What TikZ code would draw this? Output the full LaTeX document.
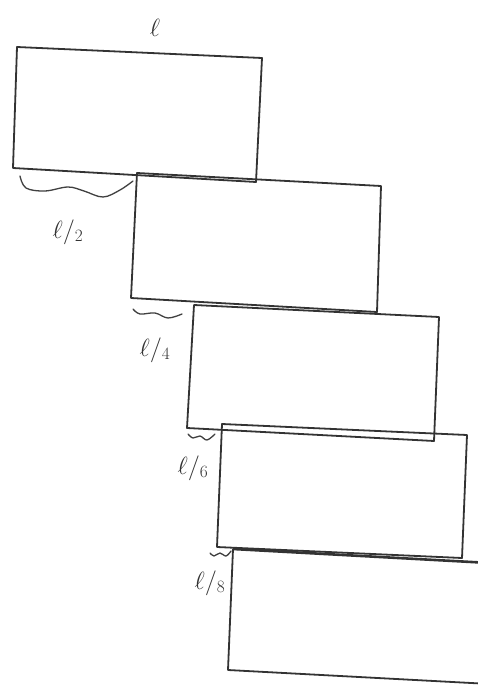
\documentclass[tikz,border=0pt]{standalone}
\usepackage{amsmath}
\begin{document}
\begin{tikzpicture}[x=1pt,y=-1pt,
  blockline/.style={draw=black!80,line width=1.8pt,line join=round},
  brace/.style={draw=black!75,line width=1.3pt,line cap=round},
  lab/.style={font=\fontsize{23}{25}\selectfont,text=black!80,inner sep=0pt}]
\useasboundingbox (0,0) rectangle (478,687);
\clip (0,0) rectangle (478,687);
\fill[white] (0,0) rectangle (478,687);
% block 1
\coordinate (a1) at (17,47); \coordinate (b1) at (262,58);
\coordinate (c1) at (256,182); \coordinate (d1) at (13,168);
\draw[blockline] (a1) -- (b1) -- (c1) -- (d1) -- cycle;
% block 2
\coordinate (a2) at (137,173); \coordinate (b2) at (381,186);
\coordinate (c2) at (377,312); \coordinate (d2) at (131,298);
\draw[blockline] (a2) -- (b2) -- (c2) -- (d2) -- cycle;
% block 3
\coordinate (a3) at (194,305); \coordinate (b3) at (439,317);
\coordinate (c3) at (434,441); \coordinate (d3) at (187,428);
\draw[blockline] (a3) -- (b3) -- (c3) -- (d3) -- cycle;
% block 4
\coordinate (a4) at (222,424); \coordinate (b4) at (467,435);
\coordinate (c4) at (462,558); \coordinate (d4) at (217,547);
\draw[blockline] (a4) -- (b4) -- (c4) -- (d4) -- cycle;
% block 5
\coordinate (a5) at (233,549); \coordinate (b5) at (490,563);
\coordinate (c5) at (490,684); \coordinate (d5) at (228,670);
\draw[blockline,line width=2.6pt] (b5) -- (a5);
\draw[blockline] (a5) -- (d5) -- (c5);
% braces
\draw[brace] plot[smooth,tension=0.6] coordinates {(20,176) (26,188) (45,191) (68,187) (84,191) (103,197) (120,190) (133,181)};
\draw[brace] plot[smooth,tension=0.6] coordinates {(133,309) (140,314) (155,313) (168,318) (182,314)};
\draw[brace] plot[smooth,tension=0.6] coordinates {(188,434) (193,438) (200,436) (207,440) (215,434)};
\draw[brace] plot[smooth,tension=0.6] coordinates {(210,553) (214,556) (220,553) (226,556) (231,551)};
% labels
\node[lab] (l0) at (155,28) {$\ell$};
\node[lab] (l2) at (68,232) {$\ell/_{2}$};
\node[lab] (l4) at (155,350) {$\ell/_{4}$};
\node[lab] (l6) at (193,468) {$\ell/_{6}$};
\node[lab] (l8) at (210,583) {$\ell/_{8}$};
\end{tikzpicture}
\end{document}
